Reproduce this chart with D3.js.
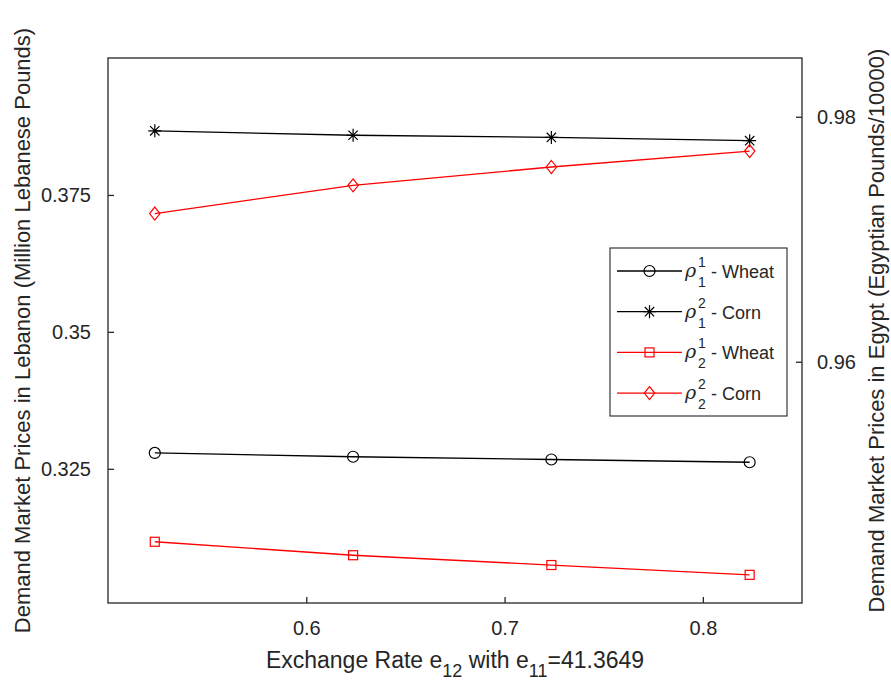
<!DOCTYPE html>
<html>
<head>
<meta charset="utf-8">
<script src="https://cdn.jsdelivr.net/npm/d3@7"></script>
<style>
  html, body { margin: 0; padding: 0; background: #fff; }
  svg { display: block; font-family: "Liberation Sans", Arial, Helvetica, sans-serif; }
</style>
</head>
<body>
<svg id="chart" width="891" height="681"></svg>
<script>
// ---- data ----
const xValues   = [0.5236, 0.6236, 0.7236, 0.8236];
const rho11Wheat = [0.3279, 0.3272, 0.3267, 0.3262];   // left axis
const rho12Corn  = [0.3867, 0.3859, 0.3855, 0.3849];   // left axis
const rho21Wheat = [0.9453, 0.9442, 0.9434, 0.9426];   // right axis
const rho22Corn  = [0.9721, 0.9744, 0.9759, 0.9772];   // right axis
const xTicks = [0.6, 0.7, 0.8];
const xTickLabels = ["0.6", "0.7", "0.8"];
const yLeftTicks = [0.325, 0.35, 0.375];
const yLeftTickLabels = ["0.325", "0.35", "0.375"];
const yRightTicks = [0.96, 0.98];
const yRightTickLabels = ["0.96", "0.98"];

const W = 891, H = 681;
const L = 108, R = 802, T = 58, B = 603;
const axisColor = "#262626";

const svg = d3.select("#chart");
const x  = d3.scaleLinear().domain([0.5, 0.85]).range([L, R]);
const yL = d3.scaleLinear().domain([0.3005, 0.4]).range([B, T]);
const yR = d3.scaleLinear().domain([0.9403, 0.9848]).range([B, T]);

// box
svg.append("rect").attr("x", L).attr("y", T).attr("width", R - L).attr("height", B - T)
  .attr("fill", "none").attr("stroke", axisColor).attr("stroke-width", 1.3);

// axes
const tickLen = 6;
const fontTick = 20;
const gx = svg.append("g").attr("transform", `translate(0,${B})`)
  .call(d3.axisBottom(x).tickValues(xTicks).tickFormat((d, i) => xTickLabels[i])
        .tickSizeInner(-tickLen).tickSizeOuter(0).tickPadding(18));
const gl = svg.append("g").attr("transform", `translate(${L},0)`)
  .call(d3.axisLeft(yL).tickValues(yLeftTicks).tickFormat((d, i) => yLeftTickLabels[i])
        .tickSizeInner(-tickLen).tickSizeOuter(0).tickPadding(17));
const gr = svg.append("g").attr("transform", `translate(${R},0)`)
  .call(d3.axisRight(yR).tickValues(yRightTicks).tickFormat((d, i) => yRightTickLabels[i])
        .tickSizeInner(-tickLen).tickSizeOuter(0).tickPadding(15));
[gx, gl, gr].forEach(g => {
  g.select(".domain").remove();
  g.selectAll(".tick line").attr("stroke", axisColor).attr("stroke-width", 1.3);
  g.selectAll(".tick text").attr("fill", axisColor).style("font-size", fontTick + "px")
    .style("font-family", "'Liberation Sans', Arial, sans-serif");
});

// axis labels
const fontLabel = 22;
const xl = svg.append("text").attr("x", (L + R) / 2).attr("y", 668).attr("text-anchor", "middle")
  .attr("fill", axisColor).style("font-size", "23px");
xl.append("tspan").text("Exchange Rate e");
xl.append("tspan").text("12").attr("dy", 9).style("font-size", "18px");
xl.append("tspan").text(" with e").attr("dy", -9);
xl.append("tspan").text("11").attr("dy", 9).style("font-size", "18px");
xl.append("tspan").text("=41.3649").attr("dy", -9);

svg.append("text").attr("transform", `translate(30,${(T + B) / 2}) rotate(-90)`)
  .attr("text-anchor", "middle").attr("fill", axisColor).style("font-size", fontLabel + "px")
  .text("Demand Market Prices in Lebanon (Million Lebanese Pounds)");
svg.append("text").attr("transform", `translate(884,${(T + B) / 2}) rotate(-90)`)
  .attr("text-anchor", "middle").attr("fill", axisColor).style("font-size", fontLabel + "px")
  .text("Demand Market Prices in Egypt (Egyptian Pounds/10000)");

// markers
function drawMarker(g, type, cx, cy, color) {
  if (type === "circle") {
    g.append("circle").attr("cx", cx).attr("cy", cy).attr("r", 5.5)
      .attr("fill", "none").attr("stroke", color).attr("stroke-width", 1.2);
  } else if (type === "square") {
    g.append("rect").attr("x", cx - 4.5).attr("y", cy - 4.5).attr("width", 9).attr("height", 9)
      .attr("fill", "none").attr("stroke", color).attr("stroke-width", 1.2);
  } else if (type === "diamond") {
    const s = 6.5;
    g.append("path").attr("d", `M${cx},${cy - s}L${cx + s * 0.8},${cy}L${cx},${cy + s}L${cx - s * 0.8},${cy}Z`)
      .attr("fill", "none").attr("stroke", color).attr("stroke-width", 1.2);
  } else if (type === "star") {
    const s = 6.5, d = s * 0.72;
    g.append("path").attr("d",
      `M${cx - s},${cy}L${cx + s},${cy}M${cx},${cy - s}L${cx},${cy + s}` +
      `M${cx - d},${cy - d}L${cx + d},${cy + d}M${cx - d},${cy + d}L${cx + d},${cy - d}`)
      .attr("fill", "none").attr("stroke", color).attr("stroke-width", 1.2);
  }
}

const series = [
  { vals: rho11Wheat, scale: yL, color: "#000000", marker: "circle",  sup: "1", sub: "1", name: "- Wheat" },
  { vals: rho12Corn,  scale: yL, color: "#000000", marker: "star",    sup: "2", sub: "1", name: "- Corn" },
  { vals: rho21Wheat, scale: yR, color: "#ff0000", marker: "square",  sup: "1", sub: "2", name: "- Wheat" },
  { vals: rho22Corn,  scale: yR, color: "#ff0000", marker: "diamond", sup: "2", sub: "2", name: "- Corn" }
];

series.forEach(s => {
  const line = d3.line().x((d, i) => x(xValues[i])).y(d => s.scale(d));
  svg.append("path").datum(s.vals).attr("d", line)
    .attr("fill", "none").attr("stroke", s.color).attr("stroke-width", 1.3);
  const g = svg.append("g");
  s.vals.forEach((v, i) => drawMarker(g, s.marker, x(xValues[i]), s.scale(v), s.color));
});

// legend
const lgX = 610, lgY = 248, lgW = 177, lgH = 168;
svg.append("rect").attr("x", lgX).attr("y", lgY).attr("width", lgW).attr("height", lgH)
  .attr("fill", "#fff").attr("stroke", axisColor).attr("stroke-width", 1.1);
const rowY0 = 271, rowDy = 40.7;
series.forEach((s, i) => {
  const cy = rowY0 + i * rowDy;
  svg.append("line").attr("x1", 617).attr("x2", 682).attr("y1", cy).attr("y2", cy)
    .attr("stroke", s.color).attr("stroke-width", 1.3);
  drawMarker(svg, s.marker, 649.5, cy, s.color);
  svg.append("text").attr("x", 685).attr("y", cy + 6).attr("fill", axisColor)
    .style("font-size", "19px").style("font-family", "'DejaVu Serif', serif").style("font-style", "italic").text("ρ");
  svg.append("text").attr("x", 698).attr("y", cy - 4).attr("fill", axisColor)
    .style("font-size", "14px").text(s.sup);
  svg.append("text").attr("x", 698).attr("y", cy + 16).attr("fill", axisColor)
    .style("font-size", "14px").text(s.sub);
  svg.append("text").attr("x", 711).attr("y", cy + 7).attr("fill", axisColor)
    .style("font-size", "18px").text(s.name);
});
</script>
</body>
</html>
